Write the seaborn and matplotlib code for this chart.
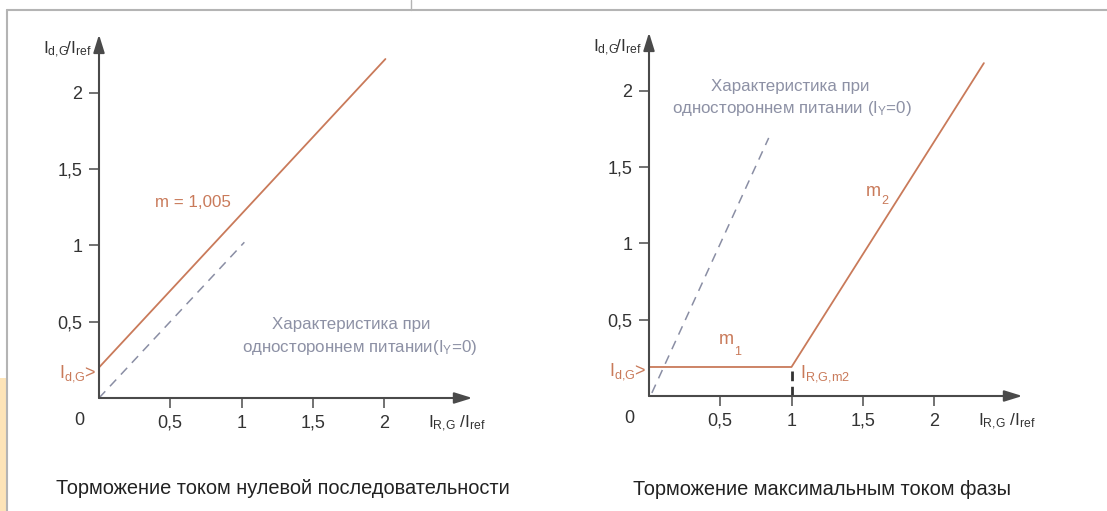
import matplotlib
matplotlib.use("Agg")
import matplotlib.pyplot as plt
from matplotlib.patches import Rectangle
from matplotlib.lines import Line2D
import seaborn as sns

# data
tick_vals = [0.5, 1, 1.5, 2]
tick_labels = ["0,5", "1", "1,5", "2"]

# left: restraint by zero-sequence current
left_x = [0.0, 2.01]
left_y = [0.2, 2.22]
left_single_x = [0.0, 1.02]
left_single_y = [0.0, 1.02]

# right: restraint by max phase current
right_x = [0.0, 1.0, 2.35]
right_y = [0.19, 0.19, 2.18]
right_single_x = [0.02, 0.84]
right_single_y = [0.02, 1.69]
knee_x = [1.0, 1.0]
knee_y = [0.0, 0.19]

titles = ["Торможение током нулевой последовательности",
          "Торможение максимальным током фазы"]

RED = "#c97a5a"
GRAY_TXT = "#8d91a5"
DASH = "#8a8ea4"
AX = "#5a5a5a"

sns.set_theme(style="white")
plt.rcParams["font.family"] = ["Liberation Sans", "DejaVu Sans"]
plt.rcParams["mathtext.fontset"] = "custom"
plt.rcParams["mathtext.rm"] = "Liberation Sans"
plt.rcParams["mathtext.it"] = "Liberation Sans"

W, H = 1107, 511
fig = plt.figure(figsize=(W / 100, H / 100), dpi=100)

# page decoration
fig.add_artist(Line2D([7 / W, 1], [1 - 10.5 / H, 1 - 10.5 / H], color="#b4b4b4", lw=1.5))
fig.add_artist(Line2D([7 / W, 7 / W], [0, 1 - 10.5 / H], color="#b4b4b4", lw=1.5))
fig.add_artist(Line2D([411 / W, 411 / W], [1 - 10.5 / H, 1], color="#b4b4b4", lw=1))
fig.add_artist(Rectangle((0, 0), 6 / W, (511 - 378) / H, color="#fde4b8", lw=0))

XS, YS = 142.5, 152.7
XMAX, YMAX = 2.65, 2.4

YLAB = r"$\mathrm{I_{d{,}G}\!/I_{ref}}$"
XLAB = r"$\mathrm{I_{R{,}G}\ /I_{ref}}$"
IDG = r"$\mathrm{I_{d{,}G}}$>"


def make_axes(ox, oy):
    ax = fig.add_axes([ox / W, (H - oy) / H, XMAX * XS / W, YMAX * YS / H])
    ax.set_xlim(0, XMAX)
    ax.set_ylim(0, YMAX)
    ax.patch.set_alpha(0)
    for s in ax.spines.values():
        s.set_visible(False)
    ax.set_xticks(tick_vals)
    ax.set_xticklabels(tick_labels)
    ax.set_yticks(tick_vals)
    ax.set_yticklabels(tick_labels)
    ax.tick_params(axis="both", direction="out", length=7, width=1.2, color=AX,
                   labelsize=13, labelcolor="#333333", bottom=True, left=True)
    ax.tick_params(axis="x", pad=5)
    ax.tick_params(axis="y", pad=5)
    ax.set_xlabel("")
    ax.set_ylabel("")
    # axis arrows
    ax.annotate("", xy=(2.62, 0), xytext=(0, 0), annotation_clip=False,
                arrowprops=dict(arrowstyle="-|>,head_length=0.9,head_width=0.28",
                                color="#4a4a4a", lw=1.5, shrinkA=0, shrinkB=0))
    ax.annotate("", xy=(0, 2.38), xytext=(0, 0), annotation_clip=False,
                arrowprops=dict(arrowstyle="-|>,head_length=0.9,head_width=0.28",
                                color="#4a4a4a", lw=1.5, shrinkA=0, shrinkB=0))
    ax.text(-0.14, -0.15, "0", ha="center", va="center", fontsize=13, color="#333333")
    ax.text(-0.39, 2.28, YLAB, ha="left", va="center", fontsize=12.5, color="#333333")
    ax.text(2.31, -0.17, XLAB, ha="left", va="center", fontsize=12.5, color="#333333")
    ax.text(-0.28, 0.16, IDG, ha="left", va="center", fontsize=13, color=RED)
    return ax


def draw(ax, xs, ys, **kw):
    sns.lineplot(x=xs, y=ys, ax=ax, estimator=None, sort=False, clip_on=False, **kw)


# left panel
ax1 = make_axes(99, 398)
draw(ax1, left_x, left_y, color=RED, lw=1.3)
draw(ax1, left_single_x, left_single_y, color=DASH, lw=1.1, linestyle=(0, (6, 4.5)))
ax1.text(0.39, 1.28, "m = 1,005", ha="left", va="center", fontsize=12.2, color=RED)
ax1.text(1.77, 0.48, "Характеристика при", ha="center", va="center",
         fontsize=12.2, color=GRAY_TXT)
ax1.text(1.83, 0.33, r"одностороннем питании(I$_\mathrm{Y}$=0)", ha="center",
         va="center", fontsize=12.2, color=GRAY_TXT)
fig.text(283 / W, 1 - 488 / H, titles[0], ha="center", va="center",
         fontsize=14.4, color="#222222")

# right panel
ax2 = make_axes(649, 396)
draw(ax2, right_x, right_y, color=RED, lw=1.3)
draw(ax2, right_single_x, right_single_y, color=DASH, lw=1.1, linestyle=(0, (6, 4.5)))
draw(ax2, knee_x, knee_y, color="#333333", lw=2, linestyle=(0, (3.5, 2)))
ax2.text(0.49, 0.37, "m", ha="left", va="center", fontsize=13, color=RED)
ax2.text(0.60, 0.29, "1", ha="left", va="center", fontsize=9, color=RED)
ax2.text(1.52, 1.34, "m", ha="left", va="center", fontsize=13, color=RED)
ax2.text(1.63, 1.28, "2", ha="left", va="center", fontsize=9, color=RED)
ax2.text(1.06, 0.15, r"$\mathrm{I_{R{,}G{,}m2}}$", ha="left", va="center",
         fontsize=13, color=RED)
ax2.text(0.99, 2.03, "Характеристика при", ha="center", va="center",
         fontsize=12.2, color=GRAY_TXT)
ax2.text(1.0, 1.88, r"одностороннем питании (I$_\mathrm{Y}$=0)", ha="center",
         va="center", fontsize=12.2, color=GRAY_TXT)
fig.text(822 / W, 1 - 489 / H, titles[1], ha="center", va="center",
         fontsize=14.4, color="#222222")

fig.savefig("out.png", dpi=100)
